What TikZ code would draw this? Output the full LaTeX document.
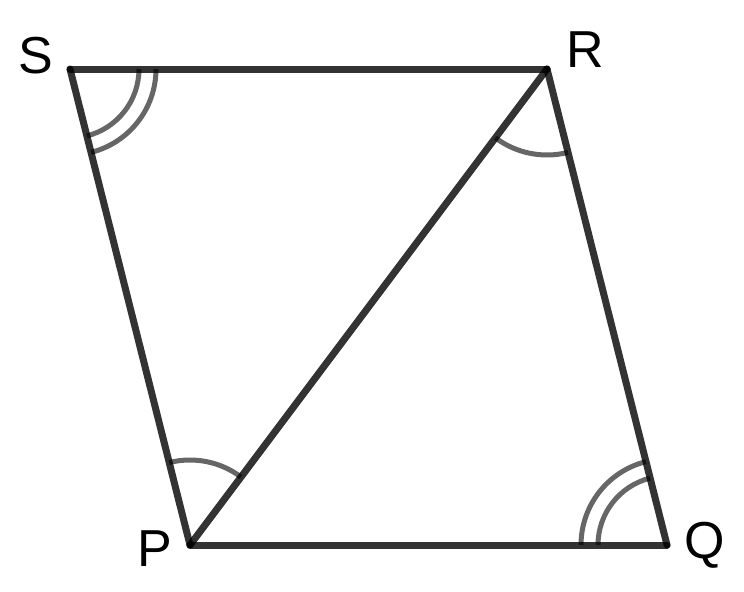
\documentclass[tikz,border=0pt]{standalone}
\usepackage{fontspec}
\setmainfont{Liberation Sans}
\usepackage{tikz}
\tikzset{
  side/.style={line width=3.5pt, draw=black, draw opacity=0.8, line cap=round, line join=round},
  anglearc/.style={line width=2.5pt, draw=black, draw opacity=0.6},
  lbl/.style={font=\fontsize{26}{30}\selectfont, inner sep=0pt}
}
\begin{document}
\begin{tikzpicture}[x=0.5pt,y=0.5pt]

    \useasboundingbox (0,0) rectangle (744,591);

    \coordinate (S) at (70,522);
    \coordinate (R) at (547,522);
    \coordinate (P) at (190,46);
    \coordinate (Q) at (667,46);

    \draw[side] (S) -- (R);
    \draw[side] (R) -- (Q);
    \draw[side] (Q) -- (P);
    \draw[side] (P) -- (S);
    \draw[side] (P) -- (R);

    \draw[anglearc] (S) ++(0:69) arc[start angle=0, end angle=-75.85, radius=69];
    \draw[anglearc] (S) ++(0:86) arc[start angle=0, end angle=-75.85, radius=86];
    \draw[anglearc] (Q) ++(180:69) arc[start angle=180, end angle=104.15, radius=69];
    \draw[anglearc] (Q) ++(180:86) arc[start angle=180, end angle=104.15, radius=86];
    \draw[anglearc] (R) ++(-126.87:86) arc[start angle=-126.87, end angle=-75.85, radius=86];
    \draw[anglearc] (P) ++(104.15:85) arc[start angle=104.15, end angle=53.13, radius=85];

    \node[lbl] (labS) at (36,535) {S};
    \node[lbl] (labR) at (585,541) {R};
    \node[lbl] (labP) at (155,42) {P};
    \node[lbl] (labQ) at (705,46) {Q};

\end{tikzpicture}
\end{document}
